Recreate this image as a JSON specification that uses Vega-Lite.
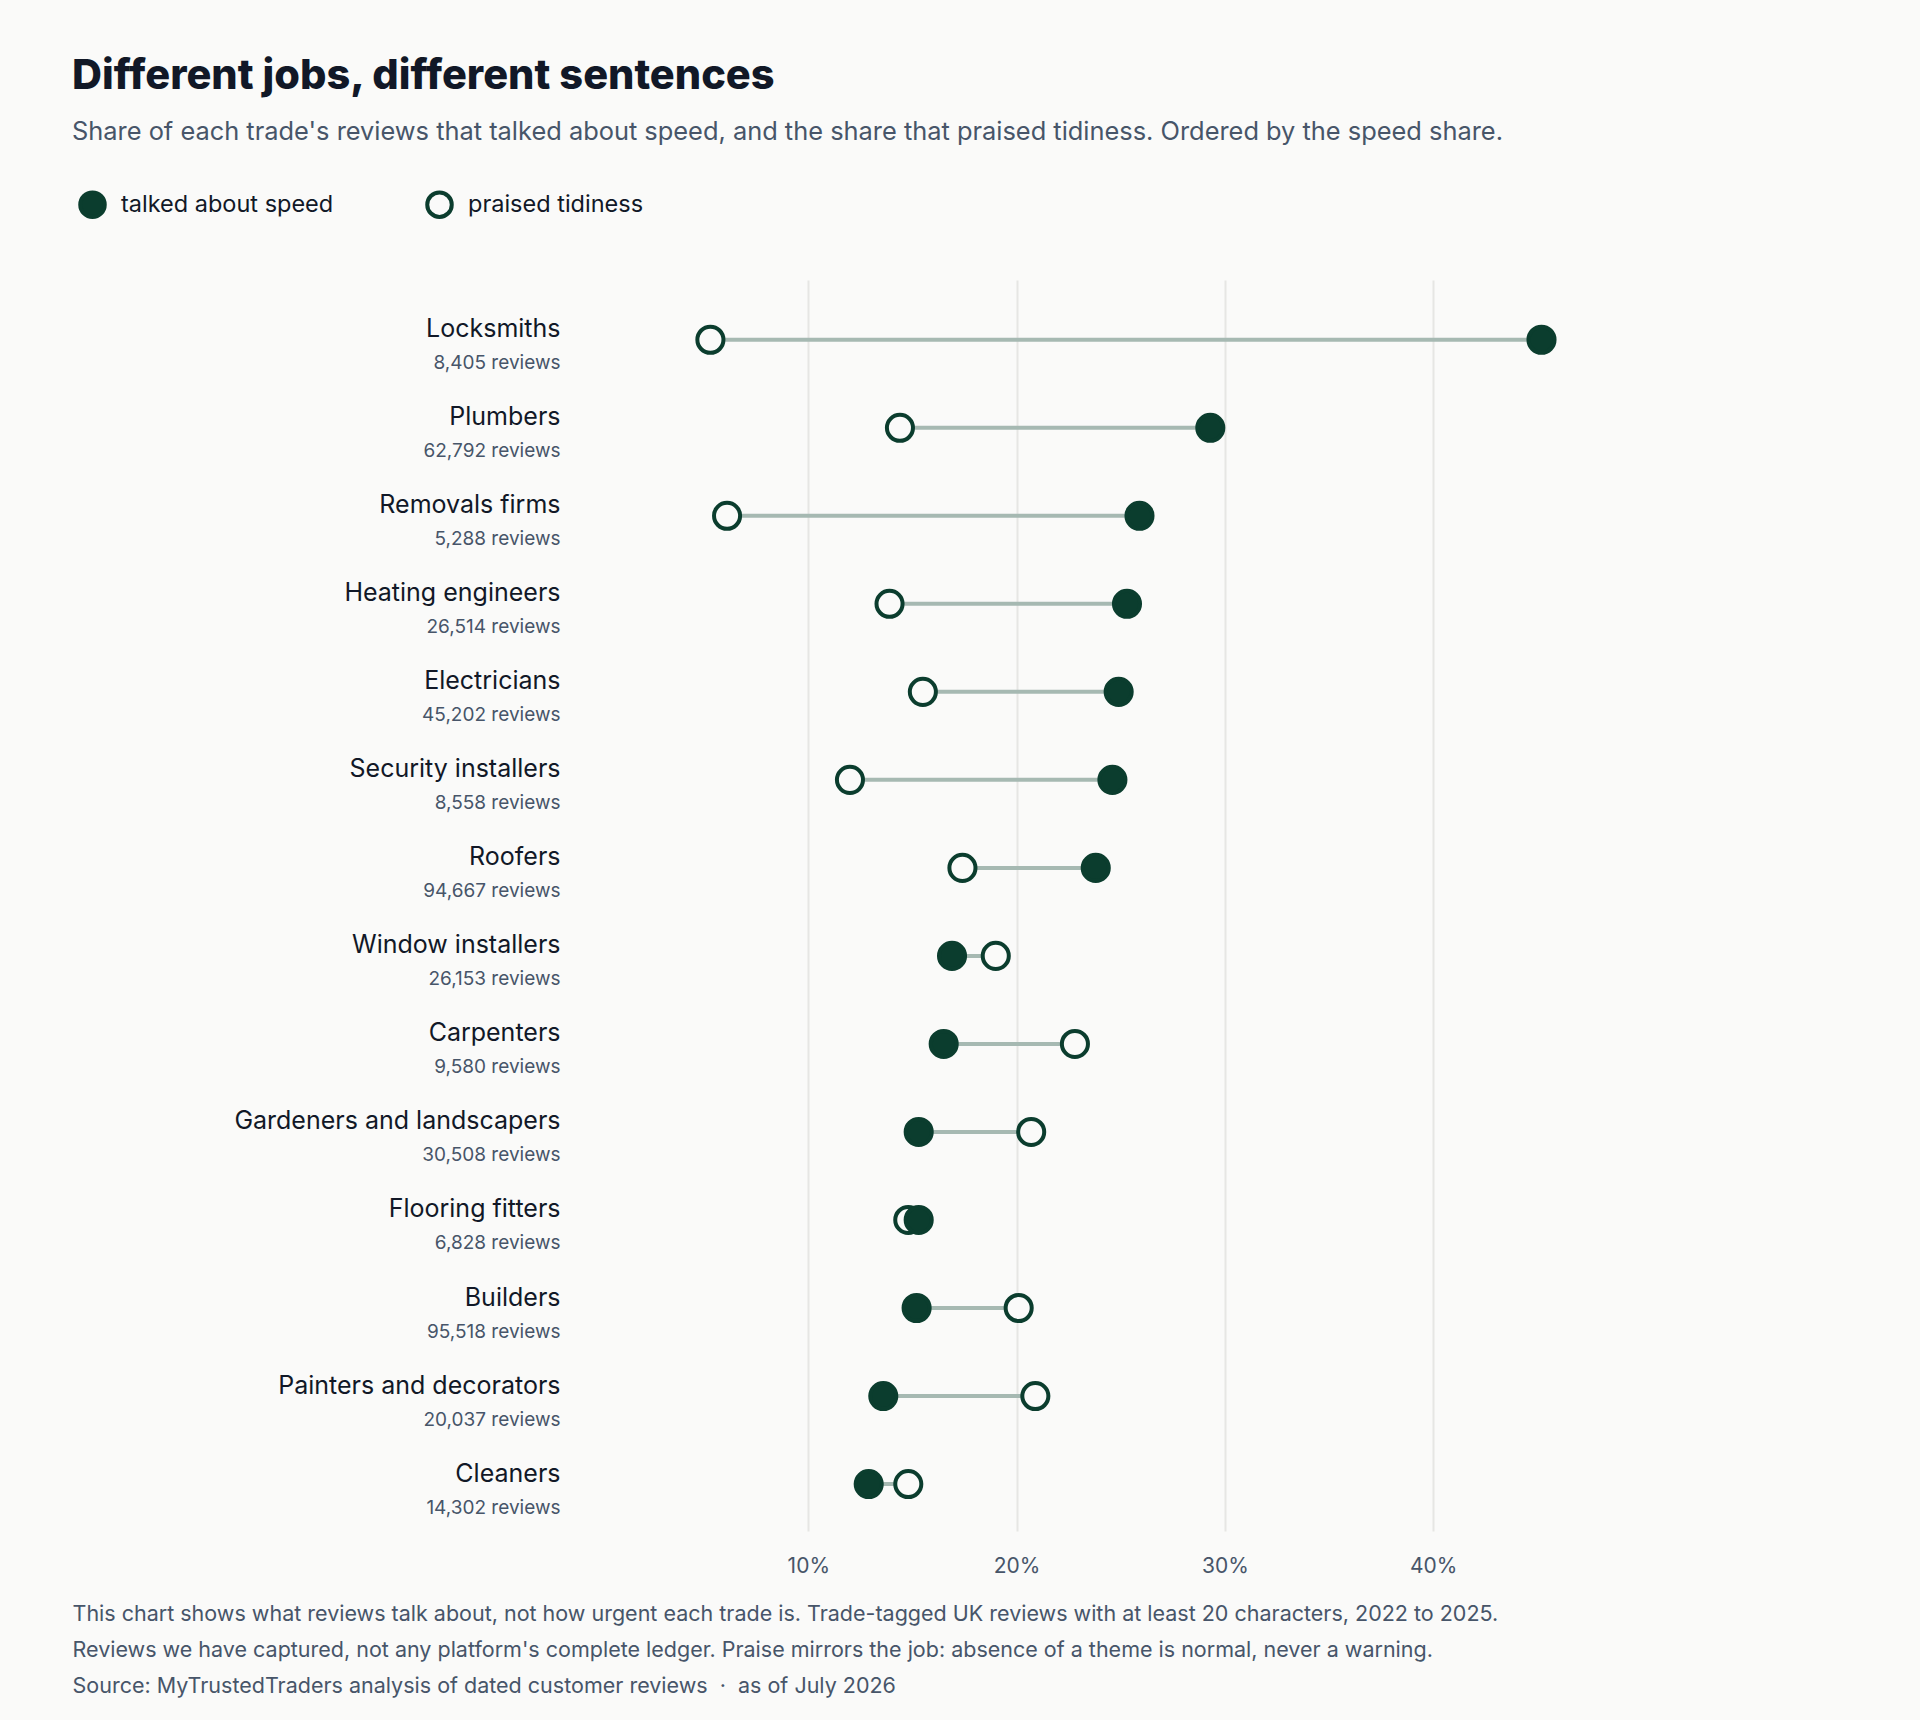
{
  "$schema": "https://vega.github.io/schema/vega-lite/v6.json",
  "autosize": {"type": "none"},
  "padding": {"left": 600, "top": 280, "right": 341, "bottom": 189},
  "width": 979,
  "height": 1251,
  "background": "#fafaf9",
  "title": {
    "text": "Different jobs, different sentences",
    "subtitle": "Share of each trade's reviews that talked about speed, and the share that praised tidiness. Ordered by the speed share.",
    "anchor": "start",
    "frame": "group",
    "dx": -528,
    "fontSize": 41.5,
    "fontWeight": 800,
    "color": "#111827",
    "subtitleFontSize": 25.4,
    "subtitleColor": "#475569",
    "subtitlePadding": 22,
    "offset": 45
  },
  "data": {
    "values": [
      {"trade": "Locksmiths", "reviews": 8405, "measure": "praised tidiness", "share": 0.053},
      {"trade": "Plumbers", "reviews": 62792, "measure": "praised tidiness", "share": 0.144},
      {"trade": "Removals firms", "reviews": 5288, "measure": "praised tidiness", "share": 0.061},
      {"trade": "Heating engineers", "reviews": 26514, "measure": "praised tidiness", "share": 0.139},
      {"trade": "Electricians", "reviews": 45202, "measure": "praised tidiness", "share": 0.155},
      {"trade": "Security installers", "reviews": 8558, "measure": "praised tidiness", "share": 0.12},
      {"trade": "Roofers", "reviews": 94667, "measure": "praised tidiness", "share": 0.174},
      {"trade": "Window installers", "reviews": 26153, "measure": "praised tidiness", "share": 0.19},
      {"trade": "Carpenters", "reviews": 9580, "measure": "praised tidiness", "share": 0.228},
      {"trade": "Gardeners and landscapers", "reviews": 30508, "measure": "praised tidiness", "share": 0.207},
      {"trade": "Flooring fitters", "reviews": 6828, "measure": "praised tidiness", "share": 0.148},
      {"trade": "Builders", "reviews": 95518, "measure": "praised tidiness", "share": 0.201},
      {"trade": "Painters and decorators", "reviews": 20037, "measure": "praised tidiness", "share": 0.209},
      {"trade": "Cleaners", "reviews": 14302, "measure": "praised tidiness", "share": 0.148},
      {"trade": "Locksmiths", "reviews": 8405, "measure": "talked about speed", "share": 0.452},
      {"trade": "Plumbers", "reviews": 62792, "measure": "talked about speed", "share": 0.293},
      {"trade": "Removals firms", "reviews": 5288, "measure": "talked about speed", "share": 0.259},
      {"trade": "Heating engineers", "reviews": 26514, "measure": "talked about speed", "share": 0.253},
      {"trade": "Electricians", "reviews": 45202, "measure": "talked about speed", "share": 0.249},
      {"trade": "Security installers", "reviews": 8558, "measure": "talked about speed", "share": 0.246},
      {"trade": "Roofers", "reviews": 94667, "measure": "talked about speed", "share": 0.238},
      {"trade": "Window installers", "reviews": 26153, "measure": "talked about speed", "share": 0.169},
      {"trade": "Carpenters", "reviews": 9580, "measure": "talked about speed", "share": 0.165},
      {"trade": "Gardeners and landscapers", "reviews": 30508, "measure": "talked about speed", "share": 0.153},
      {"trade": "Flooring fitters", "reviews": 6828, "measure": "talked about speed", "share": 0.153},
      {"trade": "Builders", "reviews": 95518, "measure": "talked about speed", "share": 0.152},
      {"trade": "Painters and decorators", "reviews": 20037, "measure": "talked about speed", "share": 0.136},
      {"trade": "Cleaners", "reviews": 14302, "measure": "talked about speed", "share": 0.129}
    ]
  },
  "layer": [
    {
      "layer": [
        {
          "mark": {"type": "rule", "color": "#a6b9b2", "strokeWidth": 4},
          "encoding": {
            "y": {
              "field": "trade",
              "type": "nominal",
              "sort": ["Locksmiths", "Plumbers", "Removals firms", "Heating engineers", "Electricians", "Security installers", "Roofers", "Window installers", "Carpenters", "Gardeners and landscapers", "Flooring fitters", "Builders", "Painters and decorators", "Cleaners"],
              "scale": {"type": "point", "padding": 0.606, "align": 0.56},
              "axis": {
                "orient": "left",
                "title": null,
                "domain": false,
                "ticks": false,
                "tickSize": 0,
                "grid": false,
                "labelPadding": 40,
                "labelLimit": 500,
                "labelFontSize": 25,
                "labelColor": "#111827",
                "labelBaseline": "alphabetic",
                "labelOffset": -3
              }
            },
            "x": {
              "field": "share",
              "aggregate": "min",
              "type": "quantitative",
              "scale": {"domain": [0, 0.47], "nice": false, "zero": false},
              "axis": {
                "values": [0.1, 0.2, 0.3, 0.4],
                "format": ".0%",
                "domain": false,
                "ticks": false,
                "tickSize": 0,
                "grid": true,
                "gridColor": "#e6e6e4",
                "gridWidth": 2,
                "labelPadding": 24,
                "labelFontSize": 21,
                "labelColor": "#475569",
                "title": [
                  "This chart shows what reviews talk about, not how urgent each trade is. Trade-tagged UK reviews with at least 20 characters, 2022 to 2025.",
                  "Reviews we have captured, not any platform's complete ledger. Praise mirrors the job: absence of a theme is normal, never a warning.",
                  "Source: MyTrustedTraders analysis of dated customer reviews \u00a0\u00b7\u00a0 as of July 2026"
                ],
                "titleAnchor": "start",
                "titleAlign": "left",
                "titleBaseline": "alphabetic",
                "titleX": -528,
                "titleY": 89,
                "titleFontSize": 21.5,
                "titleFontWeight": "normal",
                "titleColor": "#475569",
                "titleLineHeight": 36,
                "titleLimit": 1800
              }
            },
            "x2": {"field": "share", "aggregate": "max"}
          }
        },
        {
          "mark": {"type": "point", "filled": false, "stroke": "#0b3d2e", "strokeWidth": 4, "size": 680, "opacity": 1},
          "encoding": {
            "y": {
              "field": "trade",
              "type": "nominal",
              "sort": ["Locksmiths", "Plumbers", "Removals firms", "Heating engineers", "Electricians", "Security installers", "Roofers", "Window installers", "Carpenters", "Gardeners and landscapers", "Flooring fitters", "Builders", "Painters and decorators", "Cleaners"]
            },
            "x": {"field": "share", "type": "quantitative"},
            "fill": {
              "field": "measure",
              "type": "nominal",
              "scale": {"domain": ["talked about speed", "praised tidiness"], "range": ["#0b3d2e", "#fafaf9"]},
              "legend": {
                "title": null,
                "orient": "none",
                "direction": "horizontal",
                "legendX": -522,
                "legendY": -90,
                "padding": 0,
                "symbolType": "circle",
                "symbolSize": 600,
                "symbolStrokeColor": "#0b3d2e",
                "symbolStrokeWidth": 4,
                "labelFontSize": 23.5,
                "labelColor": "#111827",
                "labelOffset": 14,
                "labelLimit": 400,
                "columnPadding": 85
              }
            }
          }
        }
      ]
    },
    {
      "mark": {"type": "point", "opacity": 0},
      "encoding": {
        "y": {
          "field": "reviews",
          "type": "ordinal",
          "sort": [8405, 62792, 5288, 26514, 45202, 8558, 94667, 26153, 9580, 30508, 6828, 95518, 20037, 14302],
          "scale": {"type": "point", "padding": 0.606, "align": 0.56},
          "axis": {
            "orient": "left",
            "title": null,
            "domain": false,
            "ticks": false,
            "tickSize": 0,
            "grid": false,
            "labelPadding": 40,
            "labelFontSize": 19,
            "labelColor": "#475569",
            "labelBaseline": "alphabetic",
            "labelOffset": 29,
            "labelExpr": "format(datum.value, ',') + ' reviews'"
          }
        },
        "x": {"field": "share", "type": "quantitative"}
      }
    }
  ],
  "resolve": {"scale": {"y": "independent"}, "axis": {"y": "independent"}},
  "config": {
    "font": "Inter",
    "view": {"stroke": null},
    "axis": {"labelFont": "Inter", "titleFont": "Inter"},
    "legend": {"labelFont": "Inter"},
    "title": {"font": "Inter", "subtitleFont": "Inter"}
  }
}
